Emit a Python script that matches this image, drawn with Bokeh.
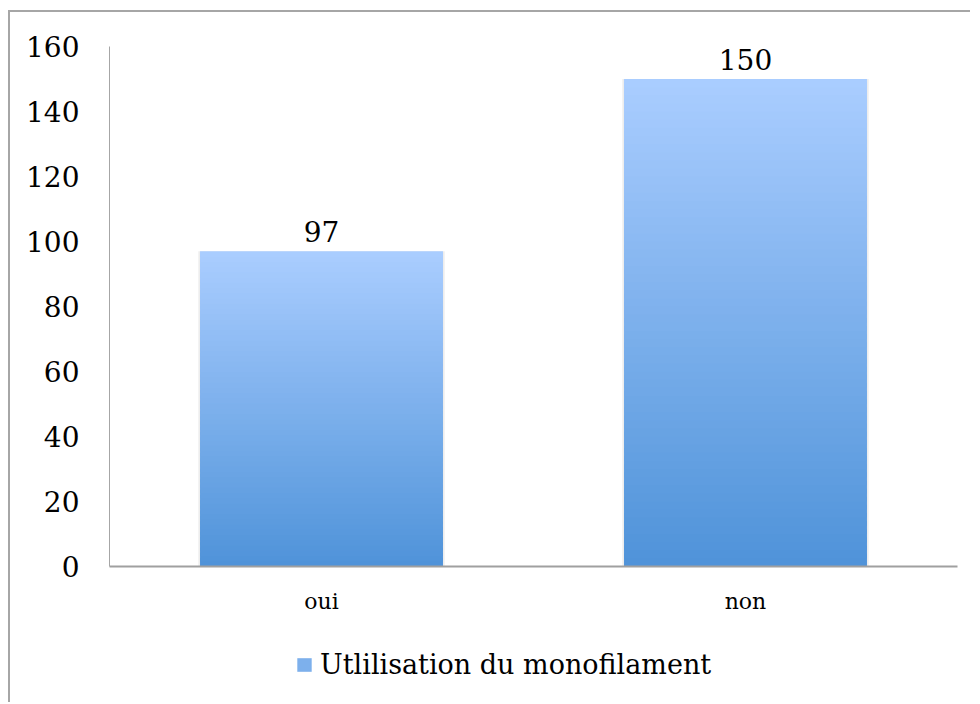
from bokeh.plotting import figure
from bokeh.layouts import column
from bokeh.models import Range1d, FactorRange, Legend, LegendItem, FixedTicker, ColumnDataSource
from bokeh.embed import file_html
from bokeh.resources import INLINE
from bokeh.core.properties import value

# ---- data ----
categories = ["oui", "non"]
counts = [97, 150]
series_name = "Utlilisation du monofilament"
y_ticks = [0, 20, 40, 60, 80, 100, 120, 140, 160]

# ---- style ----
FONT = "DejaVu Serif"
TOP_COLOR = (170, 205, 255)
BOTTOM_COLOR = (79, 147, 217)
N_STRIPS = 60
BAR_WIDTH = 0.573

W = 960
H_MAIN = 630
H_LEG = 60

p = figure(
    x_range=FactorRange(factors=categories, range_padding=0),
    y_range=Range1d(0, 160),
    width=W, height=H_MAIN,
    output_backend="svg", toolbar_location=None,
    min_border_left=99, min_border_right=13,
    min_border_top=34, min_border_bottom=H_MAIN - 554,
)
p.outline_line_color = None
p.xgrid.visible = False
p.ygrid.visible = False
p.background_fill_color = "white"
p.border_fill_color = "white"


def lerp(c0, c1, t):
    return "#%02x%02x%02x" % tuple(int(round(a + (b - a) * t)) for a, b in zip(c0, c1))


# faint shadow behind the bars
p.vbar(x=categories, top=counts, width=BAR_WIDTH + 0.008,
       fill_color="black", fill_alpha=0.07, line_color=None)

# gradient bars: stacked strips (each slightly overlapping the next to avoid seams)
xs, bottoms, tops, colors = [], [], [], []
for cat, v in zip(categories, counts):
    for i in range(N_STRIPS):
        xs.append(cat)
        bottoms.append(v * i / N_STRIPS)
        tops.append(v * min(i + 1.6, N_STRIPS) / N_STRIPS)
        colors.append(lerp(BOTTOM_COLOR, TOP_COLOR, (i + 0.5) / N_STRIPS))

src = ColumnDataSource(dict(x=xs, bottom=bottoms, top=tops, color=colors))
bars = p.vbar(x="x", bottom="bottom", top="top", width=BAR_WIDTH, source=src,
              fill_color="color", line_color=None)

# value labels
p.text(x=categories, y=counts, text=[str(v) for v in counts],
       text_font=value(FONT), text_font_size="28px", text_color="black",
       text_align="center", text_baseline="alphabetic", y_offset=-20)

# axes
p.yaxis.ticker = FixedTicker(ticks=y_ticks)
p.yaxis.axis_line_color = "#a6a6a6"
p.yaxis.axis_line_width = 1
p.yaxis.major_tick_line_color = None
p.yaxis.minor_tick_line_color = None
p.yaxis.major_tick_out = 0
p.yaxis.major_tick_in = 0
p.yaxis.major_label_standoff = 30
p.yaxis.major_label_text_font = FONT
p.yaxis.major_label_text_font_size = "28px"
p.yaxis.major_label_text_color = "black"

p.xaxis.axis_line_color = "#a0a0a0"
p.xaxis.axis_line_width = 2
p.xaxis.major_tick_line_color = None
p.xaxis.minor_tick_line_color = None
p.xaxis.major_tick_out = 0
p.xaxis.major_tick_in = 0
p.xaxis.major_label_standoff = 22
p.xaxis.major_label_text_font = FONT
p.xaxis.major_label_text_font_size = "22px"
p.xaxis.major_label_text_color = "black"

# ---- legend strip below the chart ----
leg = figure(
    x_range=p.x_range, y_range=Range1d(1000, 1001),
    width=W, height=H_LEG,
    output_backend="svg", toolbar_location=None,
    min_border=0,
)
leg.axis.visible = False
leg.grid.visible = False
leg.outline_line_color = None
leg.background_fill_color = "white"
leg.border_fill_color = "white"
# same series (outside this strip's visible range), used only for the legend swatch
leg_r = leg.vbar(x="x", bottom="bottom", top="top", width=BAR_WIDTH, source=src,
                 fill_color="color", line_color=None)

legend = Legend(items=[LegendItem(label=series_name, renderers=[leg_r], index=N_STRIPS // 2)],
                location=(186, 22), orientation="horizontal",
                label_text_font=FONT, label_text_font_size="27px",
                label_text_color="black", glyph_width=18, glyph_height=17,
                label_standoff=7, padding=0, margin=0,
                border_line_color=None, background_fill_alpha=0)
leg.add_layout(legend, "center")

layout = column(p, leg, spacing=0)
layout.margin = (10, 0, 0, 8)
layout.styles = {"border-left": "2px solid #a6a6a6", "border-top": "2px solid #a6a6a6"}

open("out.html", "w").write(file_html(layout, INLINE))
